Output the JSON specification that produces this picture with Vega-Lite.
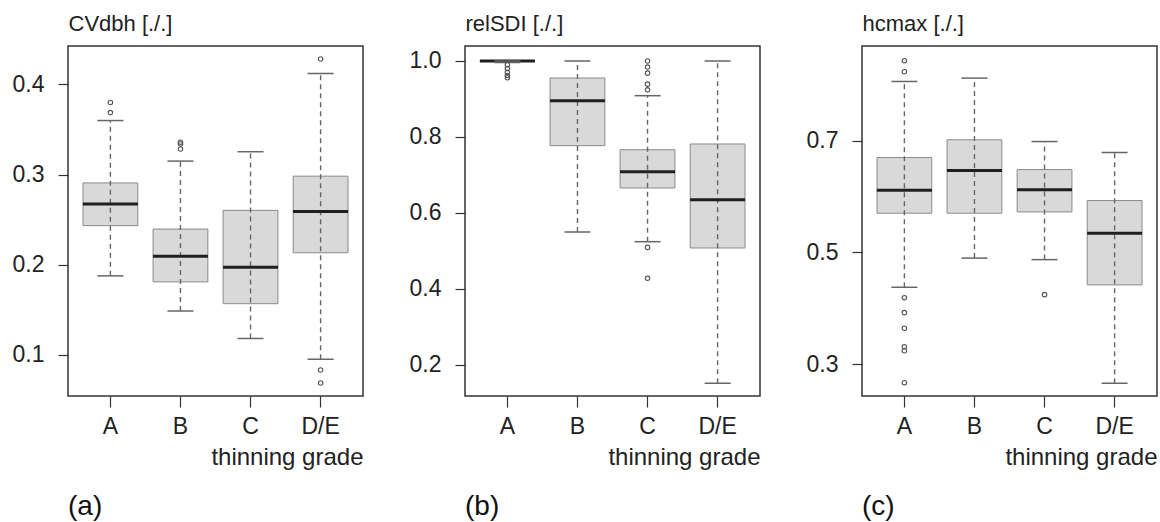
{
  "$schema": "https://vega.github.io/schema/vega-lite/v6.json",
  "padding": {"left": 11, "top": 11, "right": 0, "bottom": 0},
  "background": "white",
  "datasets": {
    "a_box": [
      {"g": "A", "lo": 0.1877, "q1": 0.2434, "med": 0.2674, "q3": 0.2908, "hi": 0.360},
      {"g": "B", "lo": 0.1487, "q1": 0.181, "med": 0.2095, "q3": 0.2396, "hi": 0.315},
      {"g": "C", "lo": 0.1182, "q1": 0.1568, "med": 0.1973, "q3": 0.2604, "hi": 0.3254},
      {"g": "D/E", "lo": 0.0952, "q1": 0.2133, "med": 0.259, "q3": 0.2983, "hi": 0.4123}
    ],
    "a_out": [
      {"g": "A", "v": 0.380}, {"g": "A", "v": 0.3688},
      {"g": "B", "v": 0.336}, {"g": "B", "v": 0.334}, {"g": "B", "v": 0.3284},
      {"g": "D/E", "v": 0.4283}, {"g": "D/E", "v": 0.0833}, {"g": "D/E", "v": 0.0688}
    ],
    "b_box": [
      {"g": "A", "lo": 0.996, "q1": 0.999, "med": 1.0, "q3": 1.0, "hi": 1.0},
      {"g": "B", "lo": 0.5495, "q1": 0.7769, "med": 0.8954, "q3": 0.9552, "hi": 1.0},
      {"g": "C", "lo": 0.524, "q1": 0.6654, "med": 0.7084, "q3": 0.7663, "hi": 0.9086},
      {"g": "D/E", "lo": 0.151, "q1": 0.5074, "med": 0.6346, "q3": 0.7814, "hi": 1.0}
    ],
    "b_out": [
      {"g": "A", "v": 0.99}, {"g": "A", "v": 0.98}, {"g": "A", "v": 0.97}, {"g": "A", "v": 0.962}, {"g": "A", "v": 0.956},
      {"g": "C", "v": 1.0}, {"g": "C", "v": 0.984}, {"g": "C", "v": 0.968}, {"g": "C", "v": 0.939}, {"g": "C", "v": 0.924},
      {"g": "C", "v": 0.509}, {"g": "C", "v": 0.4275}
    ],
    "c_box": [
      {"g": "A", "lo": 0.4377, "q1": 0.5701, "med": 0.6113, "q3": 0.6696, "hi": 0.8056},
      {"g": "B", "lo": 0.4898, "q1": 0.5701, "med": 0.6463, "q3": 0.7013, "hi": 0.8116},
      {"g": "C", "lo": 0.4871, "q1": 0.5724, "med": 0.6118, "q3": 0.6481, "hi": 0.6982},
      {"g": "D/E", "lo": 0.266, "q1": 0.4419, "med": 0.5343, "q3": 0.5927, "hi": 0.6785}
    ],
    "c_out": [
      {"g": "A", "v": 0.8426}, {"g": "A", "v": 0.8229},
      {"g": "A", "v": 0.4191}, {"g": "A", "v": 0.3923}, {"g": "A", "v": 0.3644},
      {"g": "A", "v": 0.3315}, {"g": "A", "v": 0.3243}, {"g": "A", "v": 0.2671},
      {"g": "C", "v": 0.4245}
    ]
  },
  "config": {
    "font": "Liberation Sans",
    "view": {"stroke": "#333333", "strokeWidth": 1.5},
    "axis": {
      "grid": false, "domain": false,
      "labelFont": "Liberation Sans", "labelFontSize": 23, "labelColor": "#222222",
      "tickColor": "#333333", "tickWidth": 1.2,
      "titleFont": "Liberation Sans", "titleFontWeight": "normal", "titleColor": "#222222"
    },
    "axisX": {"tickSize": 11, "labelPadding": 8, "labelAngle": 0, "titleFontSize": 24, "titleAnchor": "end", "titlePadding": 7},
    "axisY": {"tickSize": 10, "labelPadding": 14, "titleFontSize": 22, "titleAngle": 0, "titleAlign": "left", "titleBaseline": "alphabetic", "titleX": 0, "titleY": -16},
    "title": {"font": "Liberation Sans", "fontSize": 28, "fontWeight": "normal", "color": "#111111", "orient": "bottom", "anchor": "start", "frame": "group", "offset": 24}
  },
  "spacing": 44,
  "hconcat": [
    {
      "width": 295, "height": 350,
      "title": "(a)",
      "layer": [
        {"data": {"name": "a_box"}, "mark": {"type": "bar", "fill": "#d9d9d9", "stroke": "#8a8a8a", "strokeWidth": 1},
         "encoding": {
           "x": {"field": "g", "type": "nominal", "title": "thinning grade", "scale": {"type": "band", "domain": ["A", "B", "C", "D/E"], "paddingInner": 0.218, "paddingOuter": 0.214}},
           "y": {"field": "q1", "type": "quantitative", "title": "CVdbh [./.]", "scale": {"domain": [0.0544, 0.4427], "nice": false, "zero": false}, "axis": {"values": [0.1, 0.2, 0.3, 0.4], "format": ".1f"}},
           "y2": {"field": "q3"}}},
        {"data": {"name": "a_box"}, "mark": {"type": "rule", "stroke": "#666666", "strokeWidth": 1.4, "strokeDash": [5, 4]},
         "encoding": {"x": {"field": "g", "type": "nominal", "title": "thinning grade"}, "y": {"field": "lo", "type": "quantitative", "title": "CVdbh [./.]"}, "y2": {"field": "hi"}}},
        {"data": {"name": "a_box"}, "mark": {"type": "tick", "color": "#1f1f1f", "size": 55, "thickness": 3, "opacity": 1},
         "encoding": {"x": {"field": "g", "type": "nominal", "title": "thinning grade"}, "y": {"field": "med", "type": "quantitative", "title": "CVdbh [./.]"}}},
        {"data": {"name": "a_box"}, "mark": {"type": "tick", "color": "#666666", "size": 26, "thickness": 1.5, "opacity": 1},
         "encoding": {"x": {"field": "g", "type": "nominal", "title": "thinning grade"}, "y": {"field": "lo", "type": "quantitative", "title": "CVdbh [./.]"}}},
        {"data": {"name": "a_box"}, "mark": {"type": "tick", "color": "#666666", "size": 26, "thickness": 1.5, "opacity": 1},
         "encoding": {"x": {"field": "g", "type": "nominal", "title": "thinning grade"}, "y": {"field": "hi", "type": "quantitative", "title": "CVdbh [./.]"}}},
        {"data": {"name": "a_out"}, "mark": {"type": "point", "filled": false, "stroke": "#555555", "strokeWidth": 1.1, "size": 20, "opacity": 1},
         "encoding": {"x": {"field": "g", "type": "nominal", "title": "thinning grade"}, "y": {"field": "v", "type": "quantitative", "title": "CVdbh [./.]"}}}
      ]
    },
    {
      "width": 295, "height": 350,
      "title": "(b)",
      "layer": [
        {"data": {"name": "b_box"}, "mark": {"type": "bar", "fill": "#d9d9d9", "stroke": "#8a8a8a", "strokeWidth": 1},
         "encoding": {
           "x": {"field": "g", "type": "nominal", "title": "thinning grade", "scale": {"type": "band", "domain": ["A", "B", "C", "D/E"], "paddingInner": 0.218, "paddingOuter": 0.214}},
           "y": {"field": "q1", "type": "quantitative", "title": "relSDI [./.]", "scale": {"domain": [0.1175, 1.0395], "nice": false, "zero": false}, "axis": {"values": [0.2, 0.4, 0.6, 0.8, 1.0], "format": ".1f"}},
           "y2": {"field": "q3"}}},
        {"data": {"name": "b_box"}, "mark": {"type": "rule", "stroke": "#666666", "strokeWidth": 1.4, "strokeDash": [5, 4]},
         "encoding": {"x": {"field": "g", "type": "nominal", "title": "thinning grade"}, "y": {"field": "lo", "type": "quantitative", "title": "relSDI [./.]"}, "y2": {"field": "hi"}}},
        {"data": {"name": "b_box"}, "mark": {"type": "tick", "color": "#1f1f1f", "size": 55, "thickness": 3, "opacity": 1},
         "encoding": {"x": {"field": "g", "type": "nominal", "title": "thinning grade"}, "y": {"field": "med", "type": "quantitative", "title": "relSDI [./.]"}}},
        {"data": {"name": "b_box"}, "mark": {"type": "tick", "color": "#666666", "size": 26, "thickness": 1.5, "opacity": 1},
         "encoding": {"x": {"field": "g", "type": "nominal", "title": "thinning grade"}, "y": {"field": "lo", "type": "quantitative", "title": "relSDI [./.]"}}},
        {"data": {"name": "b_box"}, "mark": {"type": "tick", "color": "#666666", "size": 26, "thickness": 1.5, "opacity": 1},
         "encoding": {"x": {"field": "g", "type": "nominal", "title": "thinning grade"}, "y": {"field": "hi", "type": "quantitative", "title": "relSDI [./.]"}}},
        {"data": {"name": "b_out"}, "mark": {"type": "point", "filled": false, "stroke": "#555555", "strokeWidth": 1.1, "size": 20, "opacity": 1},
         "encoding": {"x": {"field": "g", "type": "nominal", "title": "thinning grade"}, "y": {"field": "v", "type": "quantitative", "title": "relSDI [./.]"}}}
      ]
    },
    {
      "width": 295, "height": 350,
      "title": "(c)",
      "layer": [
        {"data": {"name": "c_box"}, "mark": {"type": "bar", "fill": "#d9d9d9", "stroke": "#8a8a8a", "strokeWidth": 1},
         "encoding": {
           "x": {"field": "g", "type": "nominal", "title": "thinning grade", "scale": {"type": "band", "domain": ["A", "B", "C", "D/E"], "paddingInner": 0.218, "paddingOuter": 0.214}},
           "y": {"field": "q1", "type": "quantitative", "title": "hcmax [./.]", "scale": {"domain": [0.2433, 0.869], "nice": false, "zero": false}, "axis": {"values": [0.3, 0.5, 0.7], "format": ".1f"}},
           "y2": {"field": "q3"}}},
        {"data": {"name": "c_box"}, "mark": {"type": "rule", "stroke": "#666666", "strokeWidth": 1.4, "strokeDash": [5, 4]},
         "encoding": {"x": {"field": "g", "type": "nominal", "title": "thinning grade"}, "y": {"field": "lo", "type": "quantitative", "title": "hcmax [./.]"}, "y2": {"field": "hi"}}},
        {"data": {"name": "c_box"}, "mark": {"type": "tick", "color": "#1f1f1f", "size": 55, "thickness": 3, "opacity": 1},
         "encoding": {"x": {"field": "g", "type": "nominal", "title": "thinning grade"}, "y": {"field": "med", "type": "quantitative", "title": "hcmax [./.]"}}},
        {"data": {"name": "c_box"}, "mark": {"type": "tick", "color": "#666666", "size": 26, "thickness": 1.5, "opacity": 1},
         "encoding": {"x": {"field": "g", "type": "nominal", "title": "thinning grade"}, "y": {"field": "lo", "type": "quantitative", "title": "hcmax [./.]"}}},
        {"data": {"name": "c_box"}, "mark": {"type": "tick", "color": "#666666", "size": 26, "thickness": 1.5, "opacity": 1},
         "encoding": {"x": {"field": "g", "type": "nominal", "title": "thinning grade"}, "y": {"field": "hi", "type": "quantitative", "title": "hcmax [./.]"}}},
        {"data": {"name": "c_out"}, "mark": {"type": "point", "filled": false, "stroke": "#555555", "strokeWidth": 1.1, "size": 20, "opacity": 1},
         "encoding": {"x": {"field": "g", "type": "nominal", "title": "thinning grade"}, "y": {"field": "v", "type": "quantitative", "title": "hcmax [./.]"}}}
      ]
    }
  ]
}
